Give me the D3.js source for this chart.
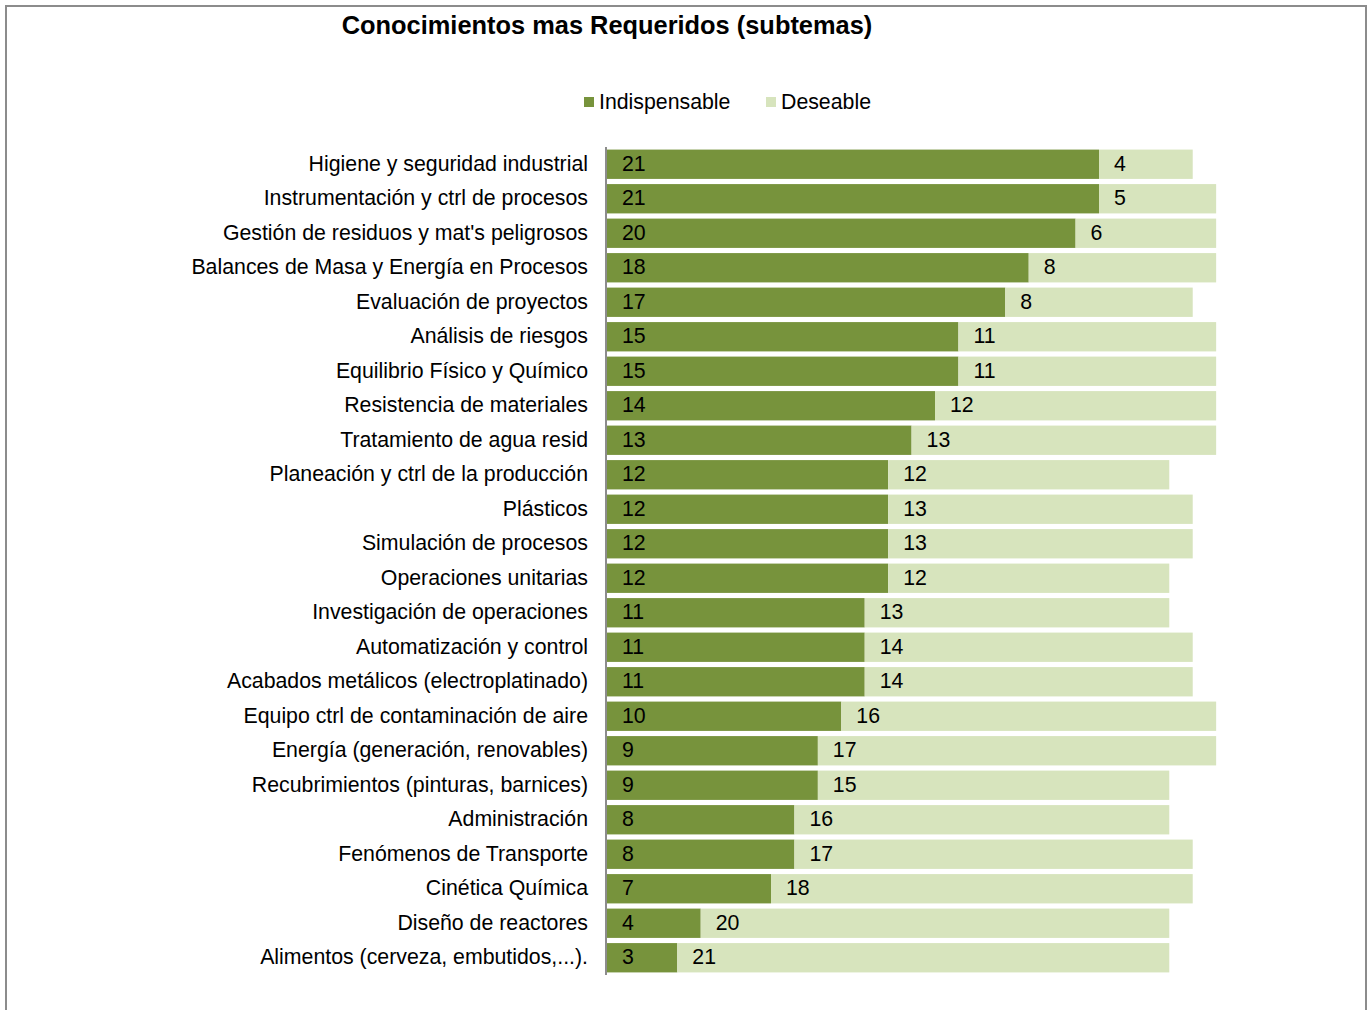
<!DOCTYPE html>
<html><head><meta charset="utf-8">
<script src="https://cdn.jsdelivr.net/npm/d3@7"></script>
<style>body{margin:0;background:#fff}svg{display:block}text{font-family:"Liberation Sans",Arial,sans-serif}</style>
</head><body>
<svg id="c" width="1372" height="1010"></svg>
<script>
const categories = ["Higiene y seguridad industrial","Instrumentación y ctrl de procesos","Gestión de residuos y mat's peligrosos","Balances de Masa y Energía en Procesos","Evaluación de proyectos","Análisis de riesgos","Equilibrio Físico y Químico","Resistencia de materiales","Tratamiento de agua resid","Planeación y ctrl de la producción","Plásticos","Simulación de procesos","Operaciones unitarias","Investigación de operaciones","Automatización y control","Acabados metálicos (electroplatinado)","Equipo ctrl de contaminación de aire","Energía (generación, renovables)","Recubrimientos (pinturas, barnices)","Administración","Fenómenos de Transporte","Cinética Química","Diseño de reactores","Alimentos (cerveza, embutidos,...)."];
const indispensable = [21,21,20,18,17,15,15,14,13,12,12,12,12,11,11,11,10,9,9,8,8,7,4,3];
const deseable = [4,5,6,8,8,11,11,12,13,12,13,13,12,13,14,14,16,17,15,16,17,18,20,21];
const seriesNames = ["Indispensable","Deseable"];
const colors = ["#77933C","#D7E4BD"];

const svg = d3.select("#c");
svg.append("path").attr("d","M6,1012 V6 H1366 V1012").attr("fill","none").attr("stroke","#8c8c8c").attr("stroke-width",2);

svg.append("text").attr("x",607).attr("y",34).attr("text-anchor","middle")
  .attr("font-size","25.4px").attr("font-weight","bold").attr("fill","#000").text("Conocimientos mas Requeridos (subtemas)");

const FS = "21.3px";
const DY = "0.31em";
const x = d3.scaleLinear().domain([0,21]).range([607,1099]);
const y = d3.scaleBand().domain(categories).range([147,975]).paddingInner(0.15).paddingOuter(0.075);

const data = categories.map((c,i)=>({c, a:indispensable[i], b:deseable[i]}));
const stack = d3.stack().keys(["a","b"])(data);

stack.forEach((layer,k)=>{
  svg.append("g").selectAll("rect").data(layer).join("rect")
    .attr("x",d=>x(d[0])).attr("width",d=>x(d[1])-x(d[0]))
    .attr("y",d=>y(d.data.c)).attr("height",y.bandwidth())
    .attr("fill",colors[k]);
  svg.append("g").selectAll("text").data(layer).join("text")
    .attr("x",d=>x(d[0])+15).attr("y",d=>y(d.data.c)+y.bandwidth()/2)
    .attr("dy",DY).attr("font-size",FS).attr("fill","#000")
    .text(d=>d[1]-d[0]);
});

const ax = svg.append("g").attr("transform","translate(606,0)").call(d3.axisLeft(y).tickSize(0).tickPadding(18));
ax.select(".domain").attr("stroke","#8c8c8c").attr("stroke-width",2).attr("d","M0,147V975");
ax.selectAll("text").attr("font-size",FS).attr("fill","#000").attr("font-family","Liberation Sans, Arial, sans-serif").attr("dy",DY);

const lx = [584,766];
seriesNames.forEach((n,i)=>{
  svg.append("rect").attr("x",lx[i]).attr("y",97).attr("width",10).attr("height",10).attr("fill",colors[i]);
  svg.append("text").attr("x",lx[i]+15).attr("y",102).attr("dy",DY).attr("font-size",FS).attr("fill","#000").text(n);
});
</script>
</body></html>
